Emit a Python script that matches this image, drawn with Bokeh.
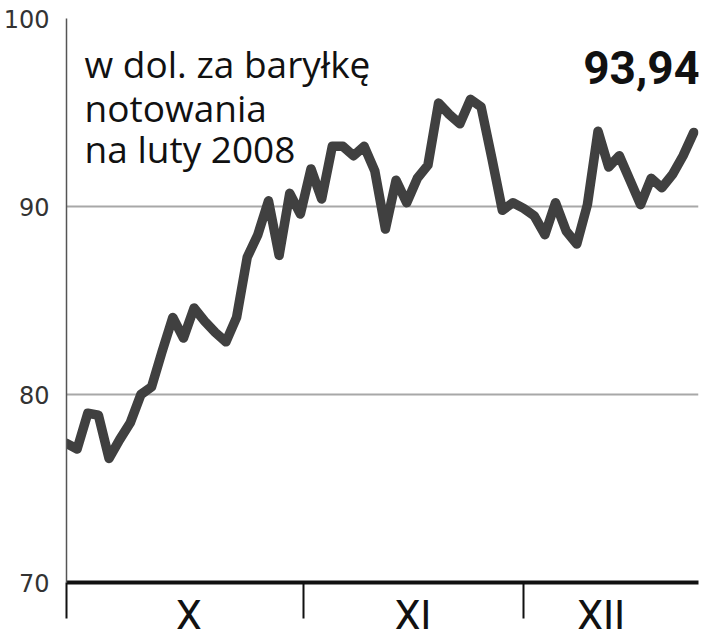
from bokeh.plotting import figure
from bokeh.models import FixedTicker, Label
from bokeh.models import Range1d
from bokeh.embed import file_html
from bokeh.resources import INLINE

# Price of oil (USD per barrel), February 2008 contract, trading-day index
values = [77.4, 77.1, 79.0, 78.9, 76.6, 77.6, 78.5, 80.0, 80.4, 82.3,
          84.1, 83.0, 84.6, 83.9, 83.3, 82.8, 84.1, 87.3, 88.5, 90.3,
          87.4, 90.7, 89.6, 92.0, 90.4, 93.2, 93.2, 92.7, 93.2, 91.9,
          88.8, 91.4, 90.2, 91.5, 92.2, 95.5, 94.9, 94.4, 95.7, 95.3,
          92.6, 89.8, 90.2, 89.9, 89.5, 88.5, 90.2, 88.7, 88.0, 90.1,
          94.0, 92.1, 92.7, 91.4, 90.1, 91.5, 91.0, 91.7, 92.7, 93.94]
days = list(range(len(values)))

month_bounds = [0, 22.3, 43.0]
month_centers = [11.5, 32.6, 50.3]
month_labels = ["X", "XI", "XII"]
y_ticks = [70, 80, 90, 100]
title_lines = ["w dol. za baryłkę", "notowania", "na luty 2008"]
last_value_label = "93,94"

p = figure(frame_width=632, frame_height=564, output_backend="svg",
           toolbar_location=None,
           x_range=Range1d(0, 59.45), y_range=Range1d(70, 100),
           min_border_left=60, min_border_right=4, min_border_top=18,
           min_border_bottom=54)
p.outline_line_color = None
p.background_fill_color = "white"

p.line(days, values, line_width=9.5, line_color="#404040",
       line_join="round", line_cap="round")

# y axis
yax = p.yaxis[0]
yax.ticker = FixedTicker(ticks=y_ticks)
yax.major_tick_line_color = None
yax.minor_tick_line_color = None
yax.axis_line_color = "#555555"
yax.axis_line_width = 1.5
yax.major_label_text_font = "DejaVu Sans"
yax.major_label_text_font_size = "24px"
yax.major_label_text_color = "#333333"
yax.major_label_standoff = 11

p.ygrid.ticker = FixedTicker(ticks=y_ticks)
p.ygrid.grid_line_color = "#a8a8a8"
p.ygrid.grid_line_width = 2
p.xgrid.visible = False

# x axis: month boundaries as minor ticks, month names at centers
xax = p.xaxis[0]
xax.ticker = FixedTicker(ticks=month_centers, minor_ticks=month_bounds)
xax.major_label_overrides = {c: l for c, l in zip(month_centers, month_labels)}
xax.major_tick_in = 0
xax.major_tick_out = 0
xax.major_tick_line_color = None
xax.minor_tick_in = 0
xax.minor_tick_out = 36
xax.minor_tick_line_color = "#111111"
xax.minor_tick_line_width = 2
xax.axis_line_color = "#111111"
xax.axis_line_width = 4
xax.major_label_text_font = "Roboto"
xax.major_label_text_font_size = "41px"
xax.major_label_text_color = "#111111"
xax.major_label_standoff = -28

# texts
title_y = [97.6, 95.27, 93.09]
for t, yy in zip(title_lines, title_y):
    p.add_layout(Label(x=1.7, y=yy, text=t, text_font="Open Sans",
                       text_font_size="37px", text_color="#111111",
                       text_baseline="alphabetic", text_align="left"))

p.add_layout(Label(x=59.6, y=97.4, text=last_value_label, text_font="Roboto",
                   text_font_size="46px", text_font_style="bold",
                   text_color="#111111", text_baseline="alphabetic",
                   text_align="right"))

open("out.html", "w").write(file_html(p, INLINE))
